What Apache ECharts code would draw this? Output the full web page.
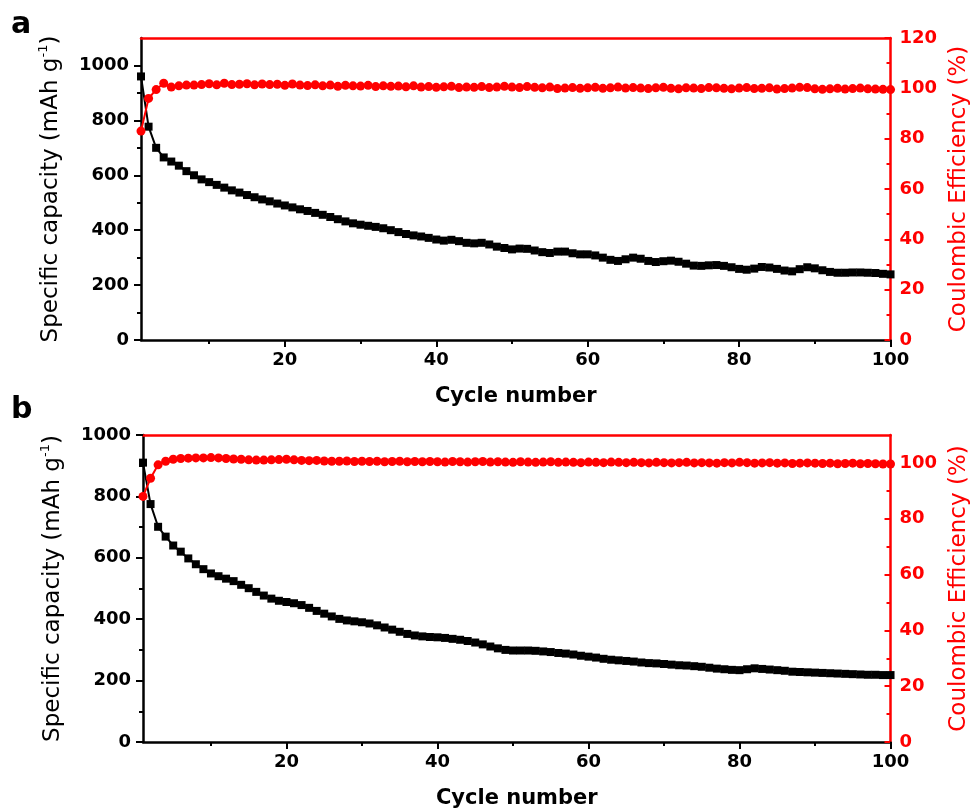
<!DOCTYPE html>
<html>
<head>
<meta charset="utf-8">
<script src="https://cdn.jsdelivr.net/npm/echarts@6/dist/echarts.min.js"></script>
<style>
  html, body { margin: 0; padding: 0; background: #fff; }
  #chart { width: 979px; height: 810px; }
</style>
</head>
<body>
<div id="chart"></div>
<script>
// Cycle index shared by both panels
const cycles = Array.from({ length: 100 }, (_, i) => i + 1);

// Panel a: specific capacity (mAh g-1)
const capA = [
  960, 777, 700, 665, 650, 635, 615, 600, 585, 575,
  565, 555, 545, 537, 528, 520, 512, 505, 497, 490,
  483, 476, 470, 463, 456, 448, 440, 432, 425, 420,
  416, 412, 407, 400, 393, 386, 381, 377, 372, 366,
  362, 365, 360, 354, 352, 354, 348, 340, 335, 330,
  333, 332, 326, 320, 317, 322, 322, 316, 312, 312,
  308, 300, 292, 288, 294, 300, 296, 288, 284, 287,
  289, 285, 278, 271, 270, 272, 273, 270, 265, 259,
  256, 260, 266, 264, 259, 253, 250, 258, 265, 261,
  254, 248, 245, 245, 246, 246, 245, 244, 241, 239
];

// Panel a: coulombic efficiency (%)
const ceA = [
  83, 96, 99.5, 102, 100.5, 101, 101.3, 101.3, 101.5, 101.8,
  101.4, 102, 101.5, 101.6, 101.8, 101.4, 101.7, 101.5, 101.6, 101.2,
  101.7, 101.3, 101.1, 101.4, 101, 101.3, 100.8, 101.2, 101, 100.9,
  101.2, 100.7, 101, 100.8, 100.9, 100.6, 101, 100.5, 100.7, 100.4,
  100.6, 100.8, 100.3, 100.5, 100.4, 100.7, 100.3, 100.5, 100.8, 100.5,
  100.3, 100.7, 100.4, 100.2, 100.5, 99.9, 100.1, 100.3, 100, 100.2,
  100.4, 100, 100.2, 100.5, 100.1, 100.3, 100.1, 99.9, 100.2, 100.4,
  100, 99.8, 100.2, 100.1, 99.9, 100.3, 100.2, 100, 99.8, 100.1,
  100.3, 99.9, 100, 100.2, 99.7, 99.9, 100.1, 100.4, 100.3, 99.8,
  99.6, 99.8, 100, 99.7, 99.9, 100.1, 99.8, 99.7, 99.6, 99.5
];

// Panel b: specific capacity (mAh g-1)
const capB = [
  910, 775, 701, 669, 640, 620, 598, 579, 563, 549,
  540, 532, 524, 512, 501, 489, 477, 467, 460, 456,
  452, 446, 437, 427, 418, 409, 401, 396, 393, 390,
  386, 380, 373, 366, 359, 352, 347, 344, 342, 341,
  339, 336, 333, 329, 324, 318, 311, 305, 300, 298,
  298, 298, 297, 295, 293, 290, 288, 285, 281, 278,
  275, 271, 268, 266, 264, 262, 259, 257, 256, 254,
  252, 250, 249, 247, 245, 242, 239, 237, 235, 234,
  237, 240, 238, 236, 234, 232, 229, 228, 227, 226,
  225, 224, 223, 222, 221, 220, 219, 219, 218, 218
];

// Panel b: coulombic efficiency (%)
const ceB = [
  88, 94.5, 99.3, 100.6, 101.3, 101.6, 101.7, 101.8, 101.8, 101.9,
  101.8, 101.6, 101.4, 101.3, 101.1, 101, 101, 101.1, 101.2, 101.3,
  101.1, 100.9, 100.8, 100.9, 100.7, 100.6, 100.6, 100.7, 100.5, 100.6,
  100.5, 100.6, 100.4, 100.5, 100.6, 100.4, 100.5, 100.4, 100.5, 100.4,
  100.3, 100.5, 100.4, 100.3, 100.4, 100.5, 100.3, 100.4, 100.3, 100.2,
  100.4, 100.3, 100.2, 100.3, 100.4, 100.2, 100.3, 100.2, 100.1, 100.3,
  100.2, 100.1, 100.3, 100.2, 100.1, 100.2, 100.1, 100, 100.2, 100.1,
  100, 100.1, 100.2, 100, 100.1, 100, 99.9, 100.1, 100, 100.2,
  100.1, 99.9, 100, 100.1, 99.9, 100, 99.8, 99.9, 100, 99.9,
  99.8, 99.9, 99.7, 99.8, 99.9, 99.7, 99.8, 99.7, 99.6, 99.6
];

// Tick values
const xMajor = [20, 40, 60, 80, 100];
const xMinor = [10, 30, 50, 70, 90];
const capMajor = [0, 200, 400, 600, 800, 1000];
const capMinor = [100, 300, 500, 700, 900];
const ceMajorA = [0, 20, 40, 60, 80, 100, 120];
const ceMinorA = [10, 30, 50, 70, 90, 110];
const ceMajorB = [0, 20, 40, 60, 80, 100];
const ceMinorB = [10, 30, 50, 70, 90];

const FONT = '"DejaVu Sans", Verdana, sans-serif';
const BLACK = '#000000';
const RED = '#ff0000';
const AXIS_W = 2.5;
const plain = v => String(v);

const panels = [
  { left: 141, top: 38, height: 302, capMax: 1100, ceMax: 120, ceMajor: ceMajorA, ceMinor: ceMinorA, cap: capA, ce: ceA },
  { left: 143, top: 435, height: 311, capMax: 1000, ceMax: 110, ceMajor: ceMajorB, ceMinor: ceMinorB, cap: capB, ce: ceB }
];

const grid = [], xAxis = [], yAxis = [], series = [];

panels.forEach((p, g) => {
  grid.push({ left: p.left, top: p.top, width: 752, height: p.height, containLabel: false });

  const xBase = { type: 'value', gridIndex: g, min: 1, max: 100, splitLine: { show: false } };
  // bottom axis with labels and major ticks
  xAxis.push(Object.assign({}, xBase, {
    position: 'bottom',
    axisLine: { show: true, onZero: false, lineStyle: { color: BLACK, width: AXIS_W } },
    axisTick: { show: true, customValues: xMajor, length: 7, lineStyle: { color: BLACK, width: 2 } },
    axisLabel: { show: true, customValues: xMajor, formatter: plain, margin: 11, color: BLACK, fontFamily: FONT, fontWeight: 'bold', fontSize: 18 },
    name: 'Cycle number', nameLocation: 'middle', nameGap: 46,
    nameTextStyle: { color: BLACK, fontFamily: FONT, fontWeight: 'bold', fontSize: 21 }
  }));
  // bottom minor ticks
  xAxis.push(Object.assign({}, xBase, {
    position: 'bottom',
    axisLine: { show: false, onZero: false },
    axisTick: { show: true, customValues: xMinor, length: 4, lineStyle: { color: BLACK, width: 2 } },
    axisLabel: { show: false }
  }));
  // top frame line
  xAxis.push(Object.assign({}, xBase, {
    position: 'top',
    axisLine: { show: true, onZero: false, lineStyle: { color: RED, width: AXIS_W } },
    axisTick: { show: false }, axisLabel: { show: false }
  }));

  const yi = yAxis.length;
  // left capacity axis
  yAxis.push({
    type: 'value', gridIndex: g, min: 0, max: p.capMax, position: 'left', splitLine: { show: false },
    axisLine: { show: true, onZero: false, lineStyle: { color: BLACK, width: AXIS_W } },
    axisTick: { show: true, customValues: capMajor, length: 7, lineStyle: { color: BLACK, width: 2 } },
    axisLabel: { show: true, customValues: capMajor, formatter: plain, margin: 12, color: BLACK, fontFamily: FONT, fontWeight: 'bold', fontSize: 18 },
    name: 'Specific capacity (mAh g{sup|-1})', nameLocation: 'middle', nameGap: 76,
    nameTextStyle: {
      color: BLACK, fontFamily: FONT, fontSize: 23, lineHeight: 28,
      rich: { sup: { fontFamily: FONT, fontSize: 13, color: BLACK, verticalAlign: 'top', lineHeight: 28 } }
    }
  });
  yAxis.push({
    type: 'value', gridIndex: g, min: 0, max: p.capMax, position: 'left', splitLine: { show: false },
    axisLine: { show: false },
    axisTick: { show: true, customValues: capMinor, length: 4, lineStyle: { color: BLACK, width: 2 } },
    axisLabel: { show: false }
  });
  // right coulombic efficiency axis
  yAxis.push({
    type: 'value', gridIndex: g, min: 0, max: p.ceMax, position: 'right', splitLine: { show: false },
    axisLine: { show: true, onZero: false, lineStyle: { color: RED, width: AXIS_W } },
    axisTick: { show: true, inside: true, customValues: p.ceMajor, length: 6, lineStyle: { color: RED, width: 2 } },
    axisLabel: { show: true, customValues: p.ceMajor, formatter: plain, margin: 9, color: RED, fontFamily: FONT, fontWeight: 'bold', fontSize: 18 },
    name: 'Coulombic Efficiency (%)', nameLocation: 'middle', nameGap: 56,
    nameTextStyle: { color: RED, fontFamily: FONT, fontSize: 23 }
  });
  yAxis.push({
    type: 'value', gridIndex: g, min: 0, max: p.ceMax, position: 'right', splitLine: { show: false },
    axisLine: { show: false },
    axisTick: { show: true, inside: true, customValues: p.ceMinor, length: 4, lineStyle: { color: RED, width: 2 } },
    axisLabel: { show: false }
  });

  series.push({
    type: 'line', xAxisIndex: g * 3, yAxisIndex: yi,
    data: cycles.map((c, i) => [c, p.cap[i]]),
    symbol: 'rect', symbolSize: 8,
    lineStyle: { color: BLACK, width: 2 }, itemStyle: { color: BLACK },
    animation: false, z: 3
  });
  series.push({
    type: 'line', xAxisIndex: g * 3, yAxisIndex: yi + 2,
    data: cycles.map((c, i) => [c, p.ce[i]]),
    symbol: 'circle', symbolSize: 9,
    lineStyle: { color: RED, width: 2 }, itemStyle: { color: RED },
    animation: false, z: 4
  });
});

const chart = echarts.init(document.getElementById('chart'), null, { renderer: 'canvas' });
chart.setOption({
  backgroundColor: '#ffffff',
  animation: false,
  grid, xAxis, yAxis, series,
  graphic: [
    { type: 'text', left: 11, top: 10, style: { text: 'a', fill: BLACK, font: 'bold 30px ' + FONT } },
    { type: 'text', left: 11, top: 395, style: { text: 'b', fill: BLACK, font: 'bold 30px ' + FONT } }
  ]
});
</script>
</body>
</html>
